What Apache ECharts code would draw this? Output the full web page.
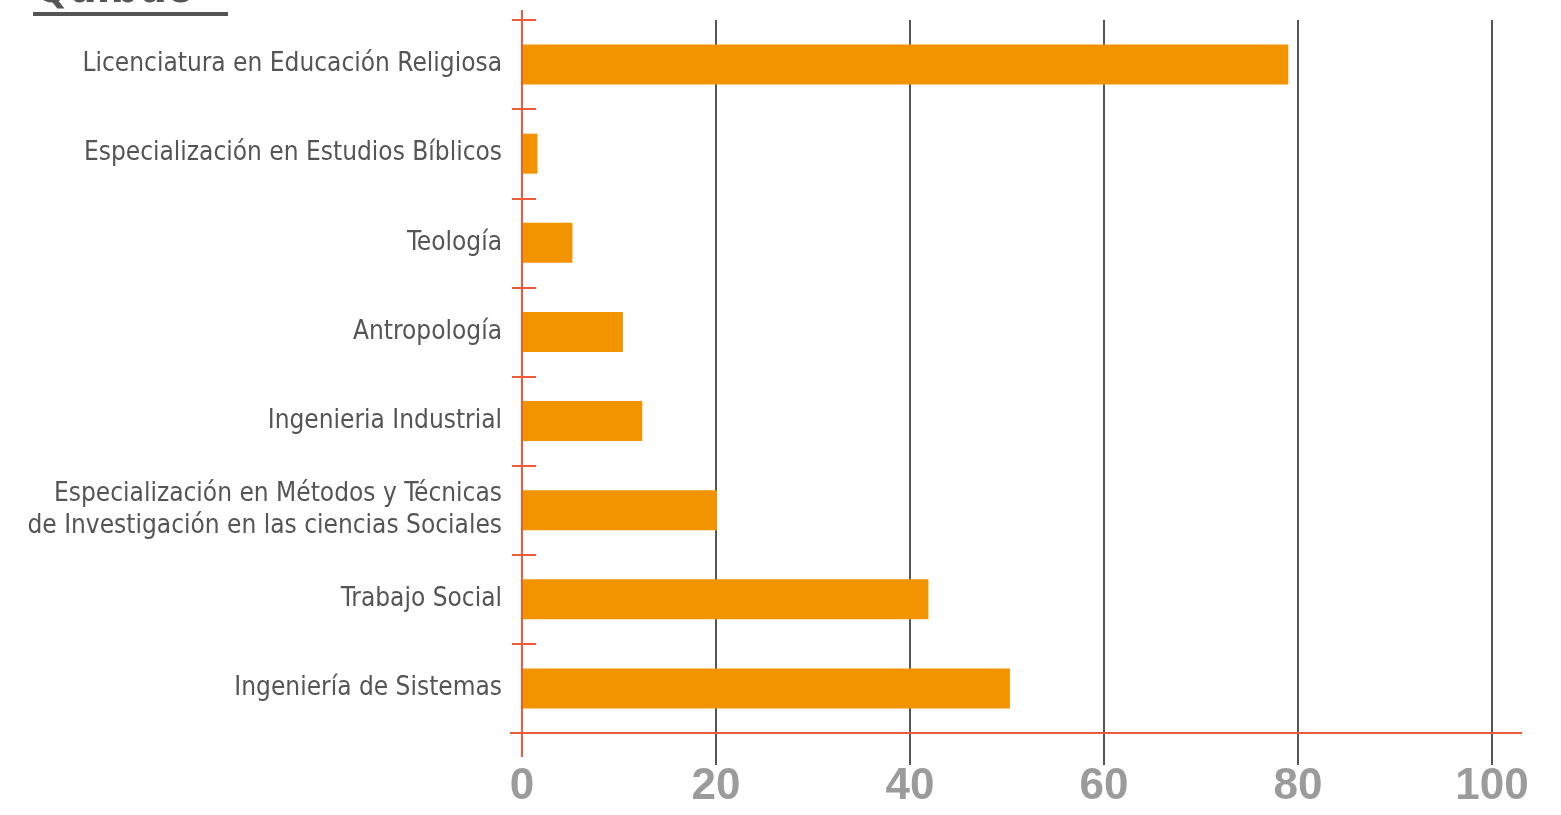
<!DOCTYPE html>
<html>
<head>
<meta charset="utf-8">
<script src="https://cdn.jsdelivr.net/npm/echarts@6/dist/echarts.min.js"></script>
<style>
  html, body { margin: 0; padding: 0; background: #fff; }
  #main { width: 1561px; height: 815px; }
</style>
</head>
<body>
<div id="main"></div>
<script>
// programas (de arriba hacia abajo)
var categories = [
    'Licenciatura en Educación Religiosa',
    'Especialización en Estudios Bíblicos',
    'Teología',
    'Antropología',
    'Ingenieria Industrial',
    'Especialización en Métodos y Técnicas\nde Investigación en las ciencias Sociales',
    'Trabajo Social',
    'Ingeniería de Sistemas'
];
var values = [79.0, 1.6, 5.2, 10.4, 12.4, 20.1, 41.9, 50.3];
var xMin = 0, xMax = 100, xStep = 20;
var titleText = 'Quibdó';

var gridL = 522, gridR = 1492, gridT = 20, gridB = 733;
var red = '#EF5B3A';
var labelFont = 'DejaVu Sans Condensed, Liberation Sans Narrow, sans-serif';

var option = {
    backgroundColor: '#fff',
    animation: false,
    title: {
        text: titleText,
        left: 30,
        top: -36,
        textStyle: {
            color: '#555',
            fontSize: 44,
            fontWeight: 'bold',
            fontFamily: labelFont
        }
    },
    grid: [{
        // barras
        left: gridL,
        right: 1561 - gridR,
        top: gridT,
        bottom: 815 - gridB,
        containLabel: false,
        outerBoundsMode: 'none'
    }, {
        // lineas de guia que bajan hasta las etiquetas
        left: gridL,
        right: 1561 - gridR,
        top: gridT,
        bottom: 815 - 765,
        containLabel: false,
        outerBoundsMode: 'none'
    }],
    xAxis: [{
        type: 'value',
        gridIndex: 0,
        min: xMin,
        max: xMax,
        interval: xStep,
        axisLine: { show: false },
        axisTick: { show: false },
        splitLine: { show: false },
        axisLabel: { show: false }
    }, {
        type: 'value',
        gridIndex: 1,
        min: xMin,
        max: xMax,
        interval: xStep,
        axisLine: { show: false },
        axisTick: { show: false },
        splitLine: {
            show: true,
            showMinLine: false,
            lineStyle: { color: '#555', width: 2 }
        },
        axisLabel: {
            margin: 0,
            color: '#9b9b9b',
            fontSize: 44,
            fontWeight: 'bold',
            fontFamily: 'Liberation Sans, Arial, sans-serif'
        }
    }],
    yAxis: [{
        type: 'category',
        gridIndex: 0,
        inverse: true,
        data: categories,
        axisLine: { show: false },
        axisTick: {
            show: true,
            length: 10,
            lineStyle: { color: red, width: 2 }
        },
        axisLabel: {
            margin: 20,
            color: '#555',
            fontSize: 26,
            lineHeight: 32,
            fontFamily: labelFont
        }
    }, {
        type: 'category',
        gridIndex: 0,
        inverse: true,
        position: 'left',
        data: categories,
        axisLine: { show: false },
        axisTick: {
            show: true,
            inside: true,
            length: 14,
            lineStyle: { color: red, width: 2 }
        },
        axisLabel: { show: false }
    }, {
        type: 'value',
        gridIndex: 1,
        show: false
    }],
    series: [{
        type: 'bar',
        xAxisIndex: 0,
        yAxisIndex: 0,
        data: values,
        barWidth: 40,
        itemStyle: { color: '#F29400' },
        z: 3
    }],
    graphic: [{
        type: 'rect',
        shape: { x: 33, y: 12, width: 195, height: 4 },
        style: { fill: '#555' }
    }, {
        type: 'line',
        z: 10,
        shape: { x1: gridL - 12, y1: gridB, x2: gridR + 30, y2: gridB },
        style: { stroke: red, lineWidth: 2 }
    }, {
        type: 'line',
        z: 10,
        shape: { x1: gridL, y1: gridT - 10, x2: gridL, y2: gridB + 24 },
        style: { stroke: red, lineWidth: 2 }
    }]
};

var myChart = echarts.init(document.getElementById('main'));
myChart.setOption(option);
</script>
</body>
</html>
